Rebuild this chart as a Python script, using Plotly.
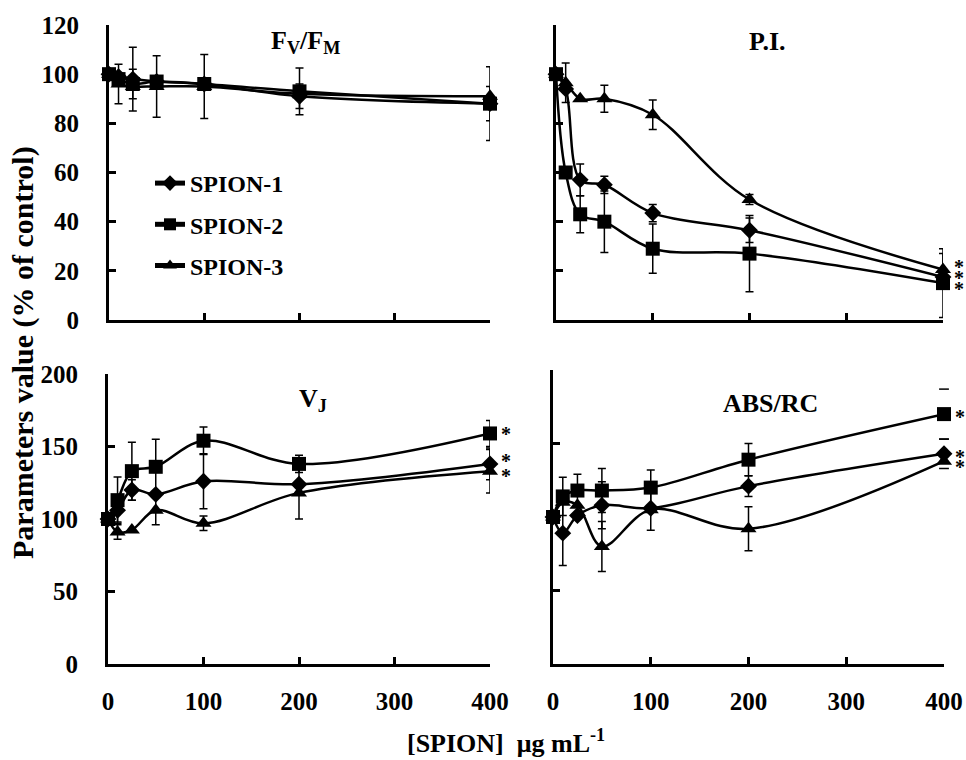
import plotly.graph_objects as go

# ---------------- data ----------------
conc = [0, 10, 25, 50, 100, 200, 400]
series_names = ["SPION-1", "SPION-2", "SPION-3"]
symbols = ["diamond", "square", "triangle-up"]
marker_sizes = [13, 14, 14]

fvfm_s1 = [100, 99, 98, 97, 96, 91, 88]
fvfm_s2 = [100, 98, 96, 97, 96, 93, 88]
fvfm_s3 = [100, 96, 95, 95, 95, 92, 91]
fvfm_e1 = [0, 0, 13, 0, 0, 5, 7]
fvfm_e2 = [0, 0, 6, 0, 0, 9.5, 15]
fvfm_e3 = [0, 8, 0, 12.5, 13, 0, 0]

pi_s1 = [100, 94, 57, 55, 43.5, 36.5, 17.5]
pi_s2 = [100, 60, 43, 40, 29, 27, 15]
pi_s3 = [100, 96.5, 90, 90, 83.5, 49, 20.5]
pi_e1 = [0, 0, 6.5, 3.5, 3.5, 5, 0]
pi_e2 = [0, 0, 7.5, 12.5, 10, 15.5, 14]
pi_e3 = [0, 8, 0, 5.5, 6, 2, 6.5]

vj_s1 = [100, 106, 120, 117, 126, 124, 138]
vj_s2 = [100, 113, 133, 136, 154, 138, 159]
vj_s3 = [100, 91, 92.5, 106, 97, 118, 133]
vj_e1 = [0, 8, 7, 0, 19, 0, 11]
vj_e2 = [0, 16, 20, 19, 9.5, 6, 9]
vj_e3 = [0, 5, 0, 10, 5, 18, 15]

abs_s1 = [100, 89, 101, 108, 106, 121, 143]
abs_s2 = [100, 114, 118, 118, 120, 139, 170]
abs_s3 = [100, 110, 108, 80, 105, 92, 138]
abs_e1 = [0, 22, 0, 16, 15, 7, 0]
abs_e2 = [0, 13, 11, 15, 12, 11, 0]
abs_e3 = [0, 0, 0, 17, 0, 15, 0]
# error at 400 µg/mL (only the caps are visible in the original)
abs_e400 = [10, 17, 0]

x_ticks = [0, 100, 200, 300, 400]
y_ticks_top = [0, 20, 40, 60, 80, 100, 120]
y_ticks_bot = [0, 50, 100, 150, 200]

panels = [
    dict(title="F<sub>V</sub>/F<sub>M</sub>", ys=[fvfm_s1, fvfm_s2, fvfm_s3],
         es=[fvfm_e1, fvfm_e2, fvfm_e3], stars=False),
    dict(title="P.I.", ys=[pi_s1, pi_s2, pi_s3], es=[pi_e1, pi_e2, pi_e3], stars=True),
    dict(title="V<sub>J</sub>", ys=[vj_s1, vj_s2, vj_s3], es=[vj_e1, vj_e2, vj_e3], stars=True),
    dict(title="ABS/RC", ys=[abs_s1, abs_s2, abs_s3], es=[abs_e1, abs_e2, abs_e3], stars=True),
]

# ---------------- layout geometry ----------------
W, H = 966, 760
def xd(a, b):
    return [a / W, b / W]
def yd(top, bottom):
    return [1 - bottom / H, 1 - top / H]

x_domains = [xd(109, 490), xd(556, 943), xd(108, 490), xd(553, 944)]
y_domains = [yd(25, 320), yd(25, 320), yd(374, 664), yd(370, 664)]
y_ranges = [[0, 120], [0, 120], [0, 200], [0, 200]]

FONT = "Liberation Serif"
fig = go.Figure()

for i, p in enumerate(panels):
    xa = "x" if i == 0 else f"x{i+1}"
    ya = "y" if i == 0 else f"y{i+1}"
    for k in range(3):
        fig.add_trace(go.Scatter(
            x=conc, y=p["ys"][k], xaxis=xa, yaxis=ya,
            mode="lines+markers", name=series_names[k],
            legendgroup=series_names[k], showlegend=(i == 0),
            line=dict(color="black", width=2.5, shape="spline", smoothing=1.0),
            marker=dict(symbol=symbols[k], size=marker_sizes[k], color="black"),
            error_y=dict(type="data", array=p["es"][k], visible=True,
                         color="black", thickness=1.5, width=4),
            cliponaxis=False,
        ))

# caps-only error markers at 400 for ABS/RC
cap_x, cap_y = [], []
for k in range(3):
    if abs_e400[k] > 0:
        last = panels[3]["ys"][k][-1]
        cap_x += [conc[-1], conc[-1]]
        cap_y += [last + abs_e400[k], last - abs_e400[k]]
fig.add_trace(go.Scatter(x=cap_x, y=cap_y, xaxis="x4", yaxis="y4", mode="markers",
                         marker=dict(symbol="line-ew-open", size=7, color="black",
                                     line=dict(color="black", width=1.5)),
                         showlegend=False, cliponaxis=False, hoverinfo="skip"))

axis_common = dict(showline=True, linecolor="black", linewidth=3, ticks="inside",
                   ticklen=7, tickwidth=3, tickcolor="black", showgrid=False,
                   zeroline=False, mirror=False, automargin=False,
                   tickfont=dict(family=FONT, size=25, color="black", weight="bold"))

layout = dict(width=W, height=H, margin=dict(l=0, r=0, t=0, b=0, autoexpand=False),
              paper_bgcolor="white", plot_bgcolor="white",
              showlegend=True,
              legend=dict(x=150 / W, y=1 - 161 / H, xanchor="left", yanchor="top",
                          bgcolor="rgba(0,0,0,0)", tracegroupgap=7,
                          font=dict(family=FONT, size=24, color="black", weight="bold"),
                          itemsizing="constant"))

for i in range(4):
    xk = "xaxis" if i == 0 else f"xaxis{i+1}"
    yk = "yaxis" if i == 0 else f"yaxis{i+1}"
    ya = "y" if i == 0 else f"y{i+1}"
    xa = "x" if i == 0 else f"x{i+1}"
    layout[xk] = dict(axis_common, domain=x_domains[i], range=[0, 400], anchor=ya,
                      tickvals=x_ticks, showticklabels=(i >= 2), ticklabelstandoff=13)
    layout[yk] = dict(axis_common, domain=y_domains[i], range=y_ranges[i], anchor=xa,
                      tickvals=(y_ticks_top if i < 2 else y_ticks_bot),
                      showticklabels=(i in (0, 2)), ticklabelstandoff=22)
fig.update_layout(**layout)

annotations = []
title_pos = [(305, 42), (767, 42), (313, 400), (770, 403)]
for i, p in enumerate(panels):
    annotations.append(dict(text=p["title"], x=title_pos[i][0] / W, y=1 - title_pos[i][1] / H,
                            xref="paper", yref="paper", showarrow=False,
                            xanchor="center", yanchor="middle",
                            font=dict(family=FONT, size=26, color="black", weight="bold")))

# asterisks at the highest concentration (pixel nudges so they do not collide)
star_shift = {1: [-1, -6, 3], 2: [3, -1, -5], 3: [-3, -3, -6]}
for i, p in enumerate(panels):
    if not p["stars"]:
        continue
    xa = "x" if i == 0 else f"x{i+1}"
    ya = "y" if i == 0 else f"y{i+1}"
    for k in range(3):
        annotations.append(dict(text="*", x=conc[-1], y=p["ys"][k][-1], xref=xa, yref=ya,
                                xshift=16, yshift=star_shift[i][k], showarrow=False,
                                xanchor="center", yanchor="middle",
                                font=dict(family=FONT, size=20, color="black", weight="bold")))

annotations.append(dict(text="Parameters value (% of control)", x=23 / W, y=1 - 353 / H,
                        xref="paper", yref="paper", showarrow=False, textangle=-90,
                        xanchor="center", yanchor="middle",
                        font=dict(family=FONT, size=30, color="black", weight="bold")))
annotations.append(dict(text="[SPION]  μg mL<sup>-1</sup>", x=506 / W, y=1 - 741 / H,
                        xref="paper", yref="paper", showarrow=False,
                        xanchor="center", yanchor="middle",
                        font=dict(family=FONT, size=26, color="black", weight="bold")))
fig.update_layout(annotations=annotations)

fig.write_html("out.html", config={"displayModeBar": False},
               post_script="document.body.style.margin='0';document.body.style.overflow='hidden';")
